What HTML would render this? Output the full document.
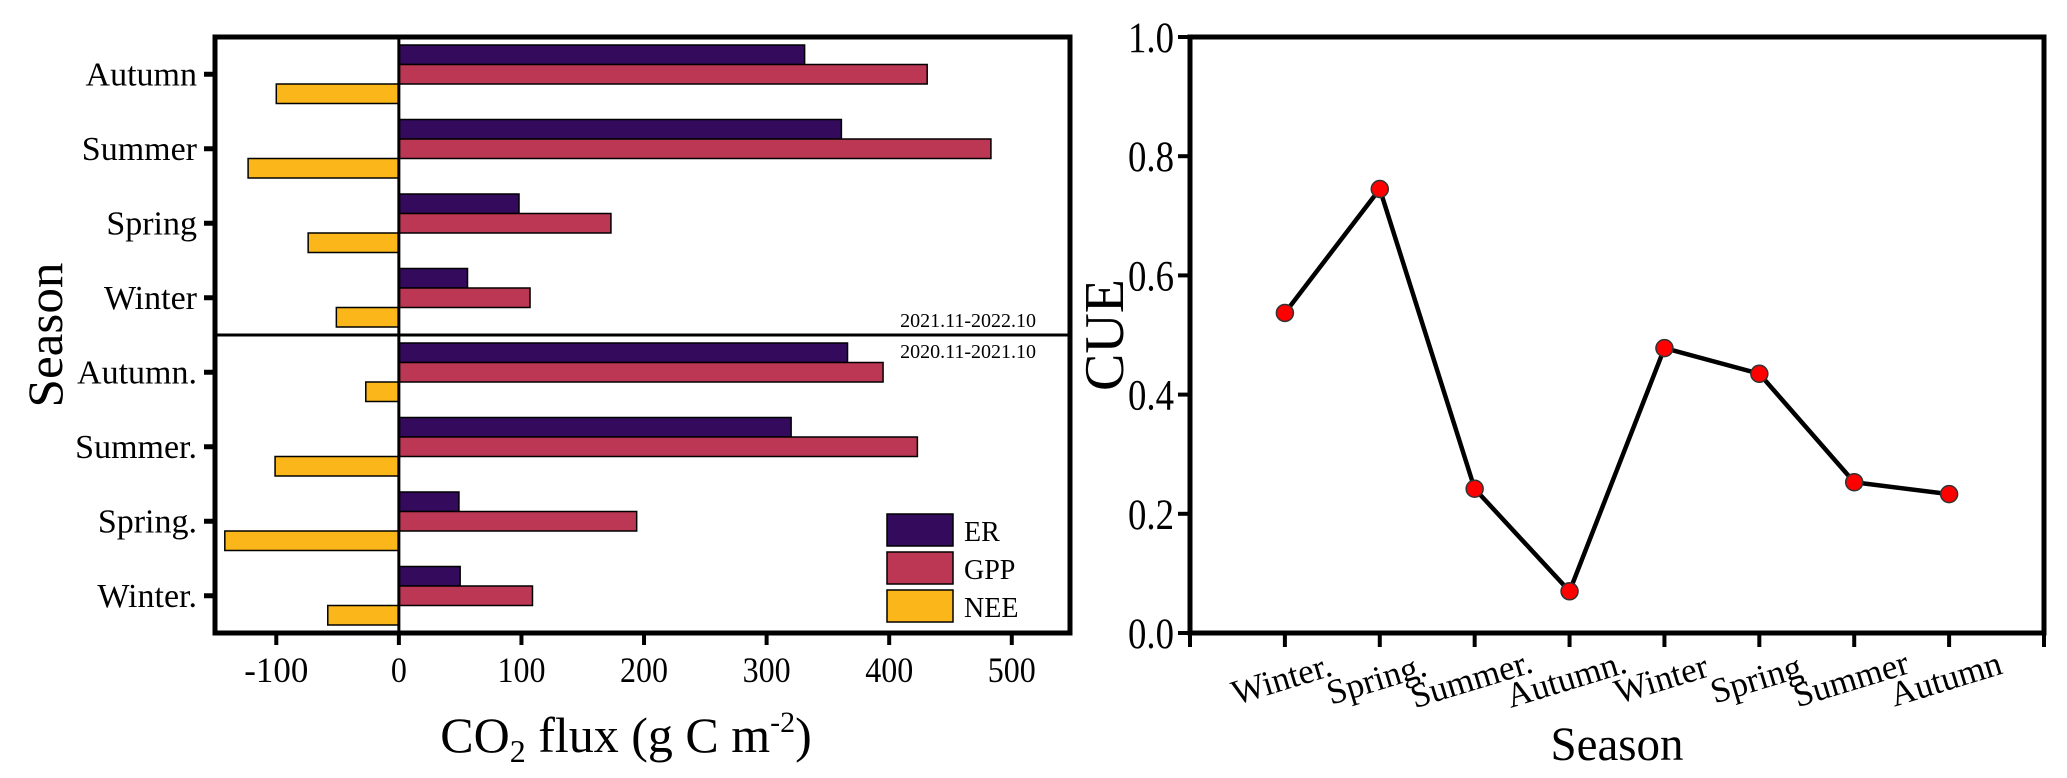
<!DOCTYPE html>
<html><head><meta charset="utf-8"><style>
html,body{margin:0;padding:0;background:#fff;}
svg{display:block;font-family:"Liberation Serif",serif;}
</style></head><body>
<svg id="fig" width="2067" height="778" viewBox="0 0 2067 778"></svg>
<script>
const categories=["Autumn","Summer","Spring","Winter","Autumn.","Summer.","Spring.","Winter."];
const erValues=[331,361,98,56,366,320,49,50];
const gppValues=[431,483,173,107,395,423,194,109];
const neeValues=[-100,-123,-74,-51,-27,-101,-142,-58];
const xTicks=[-100,0,100,200,300,400,500];
const seriesNames=["ER","GPP","NEE"];
const seriesColors=["#330a5c","#bc3754","#fbb61a"];
const cueSeasons=["Winter.","Spring.","Summer.","Autumn.","Winter","Spring","Summer","Autumn"];
const cueValues=[0.537,0.745,0.242,0.070,0.478,0.435,0.253,0.233];
const yTicks=[0.0,0.2,0.4,0.6,0.8,1.0];

const NS="http://www.w3.org/2000/svg";
const svg=document.getElementById('fig');
function mk(tag,attrs,parent){const e=document.createElementNS(NS,tag);for(const k in attrs)e.setAttribute(k,attrs[k]);(parent||svg).appendChild(e);return e;}

// ---- left chart
const L={x0:215,x1:1070,y0:37,y1:633,min:-150,max:547.5};
const xs=v=>L.x0+(v-L.min)/(L.max-L.min)*(L.x1-L.x0);
const band=(L.y1-L.y0)/categories.length;
const yc=i=>L.y0+band*(i+0.5);
const gL=mk('g',{});


const barH=19.5;
const allSeries=[erValues,gppValues,neeValues];
categories.forEach((c,i)=>{
  allSeries.forEach((vals,s)=>{
    const v=vals[i];const xa=xs(0),xb=xs(v);
    const r=mk('rect',{x:Math.min(xa,xb),y:yc(i)-barH*1.5+s*barH,width:Math.abs(xb-xa),height:barH,fill:seriesColors[s],stroke:'#000','stroke-width':1.5},gL);
    
    
  });
  const t=mk('line',{x1:L.x0-11,x2:L.x0,y1:yc(i),y2:yc(i),stroke:'#000','stroke-width':5},gL);
  
  
  const lb=mk('text',{x:L.x0-18,y:yc(i)+11,'font-size':34,'text-anchor':'end'},gL);
  lb.textContent=c;
  
  
});
const zl=mk('line',{x1:xs(0),x2:xs(0),y1:L.y0,y2:L.y1,stroke:'#000','stroke-width':3},gL);


const dv=mk('line',{x1:L.x0,x2:L.x1,y1:(L.y0+L.y1)/2,y2:(L.y0+L.y1)/2,stroke:'#000','stroke-width':3},gL);


const bx=mk('rect',{x:L.x0,y:L.y0,width:L.x1-L.x0,height:L.y1-L.y0,fill:'none',stroke:'#000','stroke-width':5},gL);


xTicks.forEach(v=>{
  const t=mk('line',{x1:xs(v),x2:xs(v),y1:L.y1,y2:L.y1+12,stroke:'#000','stroke-width':4},gL);
  
  
  const s=String(v);
  const tl=mk('text',{x:xs(v),y:682,'font-size':36,'text-anchor':'middle',textLength:s.length*16,lengthAdjust:'spacingAndGlyphs'},gL);
  tl.textContent=s;
  
  
});
const y1t=mk('text',{x:1036,y:327,'font-size':20,'text-anchor':'end'},gL);
y1t.textContent='2021.11-2022.10';


const y2t=mk('text',{x:1036,y:358,'font-size':20,'text-anchor':'end'},gL);
y2t.textContent='2020.11-2021.10';


seriesNames.forEach((n,s)=>{
  const r=mk('rect',{x:887,y:514+s*38,width:66,height:32,fill:seriesColors[s],stroke:'#000','stroke-width':1.5},gL);
  
  
  const t=mk('text',{x:964,y:541+s*38,'font-size':28},gL);
  t.textContent=n;
  
  
});
const xt=mk('text',{x:626,y:752,'font-size':50,'text-anchor':'middle'},gL);
xt.innerHTML='CO<tspan font-size="32" dy="10">2</tspan><tspan dy="-10"> flux (g C m</tspan><tspan font-size="30" dy="-20">-2</tspan><tspan dy="20">)</tspan>';


const yt=mk('text',{x:0,y:0,'font-size':50,'text-anchor':'middle',transform:'translate(62,335) rotate(-90)',textLength:145,lengthAdjust:'spacingAndGlyphs'},gL);
yt.textContent='Season';



// ---- right chart
const R={x0:1190,x1:2044,y0:37,y1:633};
const n=cueSeasons.length;
const rx=i=>R.x0+(i+1)*(R.x1-R.x0)/(n+1);
const ry=v=>R.y1-v*(R.y1-R.y0);
const gR=mk('g',{});


const rb=mk('rect',{x:R.x0,y:R.y0,width:R.x1-R.x0,height:R.y1-R.y0,fill:'none',stroke:'#000','stroke-width':5},gR);


yTicks.forEach(v=>{
  const t=mk('line',{x1:R.x0-12,x2:R.x0,y1:ry(v),y2:ry(v),stroke:'#000','stroke-width':4},gR);
  
  
  const tl=mk('text',{x:R.x0-16,y:ry(v)+15,'font-size':43,'text-anchor':'end',textLength:46,lengthAdjust:'spacingAndGlyphs'},gR);
  tl.textContent=v.toFixed(1);
  
  
});
for(let i=-1;i<=n;i++){
  const x=R.x0+(i+1)*(R.x1-R.x0)/(n+1);
  const t=mk('line',{x1:x,x2:x,y1:R.y1,y2:R.y1+14,stroke:'#000','stroke-width':4},gR);
  
  
}
cueSeasons.forEach((s,i)=>{
  const t=mk('text',{x:0,y:0,'font-size':35,'text-anchor':'middle',transform:'translate('+rx(i)+',690) rotate(-17)'},gR);
  t.textContent=s;
  
  
});
const pts=cueValues.map((v,i)=>rx(i)+','+ry(v)).join(' ');
const pl=mk('polyline',{points:pts,fill:'none',stroke:'#000','stroke-width':4.5},gR);


cueValues.forEach((v,i)=>{
  const c=mk('circle',{cx:rx(i),cy:ry(v),r:8.5,fill:'#ff0000',stroke:'#333','stroke-width':1.5},gR);
  
  
});
const ct=mk('text',{x:0,y:0,'font-size':56,'text-anchor':'middle',transform:'translate(1123,335) rotate(-90)',textLength:112,lengthAdjust:'spacingAndGlyphs'},gR);
ct.textContent='CUE';


const st=mk('text',{x:1617,y:760,'font-size':48,'text-anchor':'middle',textLength:133,lengthAdjust:'spacingAndGlyphs'},gR);
st.textContent='Season';


</script>
</body></html>
